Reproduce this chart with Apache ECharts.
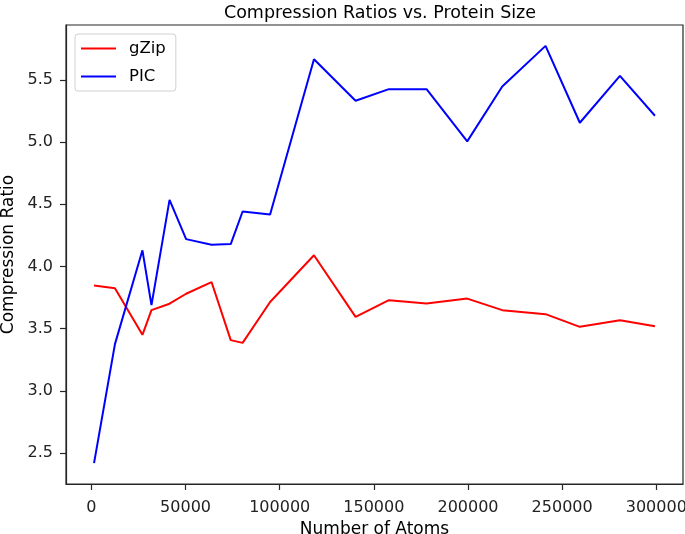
<!DOCTYPE html>
<html>
<head>
<meta charset="utf-8">
<script src="https://cdn.jsdelivr.net/npm/echarts@6/dist/echarts.min.js"></script>
<style>
html,body{margin:0;padding:0;background:#fff;}
#chart{width:685px;height:534px;}
</style>
</head>
<body>
<div id="chart"></div>
<script>
const atoms = [1400, 12500, 27100, 31900, 41500, 50300, 63800, 74000, 80300, 94900, 118200, 140300, 158000, 178000, 199600, 218200, 241200, 259400, 280700, 299300];
const gzip = [3.847, 3.825, 3.450, 3.648, 3.700, 3.780, 3.874, 3.407, 3.385, 3.714, 4.089, 3.594, 3.728, 3.701, 3.741, 3.648, 3.616, 3.514, 3.567, 3.519];
const pic = [2.418, 3.375, 4.129, 3.688, 4.535, 4.219, 4.174, 4.179, 4.441, 4.417, 5.666, 5.332, 5.425, 5.425, 5.005, 5.446, 5.773, 5.155, 5.532, 5.211];
const xTicks = [0, 50000, 100000, 150000, 200000, 250000, 300000];
const yTicks = [2.5, 3.0, 3.5, 4.0, 4.5, 5.0, 5.5];
const seriesNames = ['gZip', 'PIC'];
const titleText = 'Compression Ratios vs. Protein Size';
const xName = 'Number of Atoms';
const yName = 'Compression Ratio';

function pad(arr) {
  const mn = Math.min(...arr), mx = Math.max(...arr);
  const m = (mx - mn) * 0.05;
  return [mn - m, mx + m];
}
const xr = pad(atoms);
const yr = pad(gzip.concat(pic));

const chart = echarts.init(document.getElementById('chart'), null, {renderer: 'canvas'});
const font = 'DejaVu Sans';
const axisCol = '#262626';
chart.setOption({
  animation: false,
  backgroundColor: '#fff',
  textStyle: {fontFamily: font},
  title: {
    text: titleText,
    left: 375, top: -1, textAlign: 'center',
    textStyle: {fontFamily: font, fontSize: 17.5, fontWeight: 'normal', color: '#000'}
  },
  legend: {
    orient: 'vertical',
    left: 75, top: 34,
    padding: [6, 10, 6, 6],
    itemWidth: 35, itemHeight: 14, itemGap: 11,
    borderColor: '#d0d0d0', borderWidth: 1, borderRadius: 3,
    backgroundColor: 'rgba(255,255,255,0.8)',
    textStyle: {fontFamily: font, fontSize: 16.5, color: '#000', padding: [0, 0, 0, 8]},
    data: seriesNames.map(n => ({name: n, icon: 'path://M0,0 L35,0 L35,2 L0,2 Z'}))
  },
  grid: {left: 66, top: 25, right: 2, bottom: 50, outerBoundsMode: 'none', containLabel: false,
         show: true, borderColor: axisCol, borderWidth: 1.2, backgroundColor: 'transparent'},
  xAxis: {
    type: 'value', min: xr[0], max: xr[1],
    name: xName, nameLocation: 'middle', nameGap: 37,
    nameTextStyle: {fontFamily: font, fontSize: 17, color: '#000'},
    axisLine: {show: true, onZero: false, lineStyle: {color: axisCol, width: 1.2}},
    axisTick: {show: true, inside: false, length: 6, lineStyle: {color: axisCol, width: 1.2}, customValues: xTicks},
    axisLabel: {fontFamily: font, fontSize: 16, color: '#222', margin: 16, customValues: xTicks, formatter: v => String(v)},
    splitLine: {show: false}
  },
  yAxis: {
    type: 'value', min: yr[0], max: yr[1],
    name: yName, nameLocation: 'middle', nameGap: 49,
    nameTextStyle: {fontFamily: font, fontSize: 17, color: '#000'},
    axisLine: {show: true, onZero: false, lineStyle: {color: axisCol, width: 1.2}},
    axisTick: {show: true, inside: false, length: 6, lineStyle: {color: axisCol, width: 1.2}, customValues: yTicks},
    axisLabel: {fontFamily: font, fontSize: 16, color: '#222', margin: 13, customValues: yTicks, formatter: v => v.toFixed(1)},
    splitLine: {show: false}
  },
  series: [
    {name: seriesNames[0], type: 'line', data: atoms.map((x, i) => [x, gzip[i]]), showSymbol: false, symbol: 'none',
     lineStyle: {color: '#ff0000', width: 2}, itemStyle: {color: '#ff0000'}},
    {name: seriesNames[1], type: 'line', data: atoms.map((x, i) => [x, pic[i]]), showSymbol: false, symbol: 'none',
     lineStyle: {color: '#0000ff', width: 2}, itemStyle: {color: '#0000ff'}}
  ]
});
</script>
</body>
</html>
